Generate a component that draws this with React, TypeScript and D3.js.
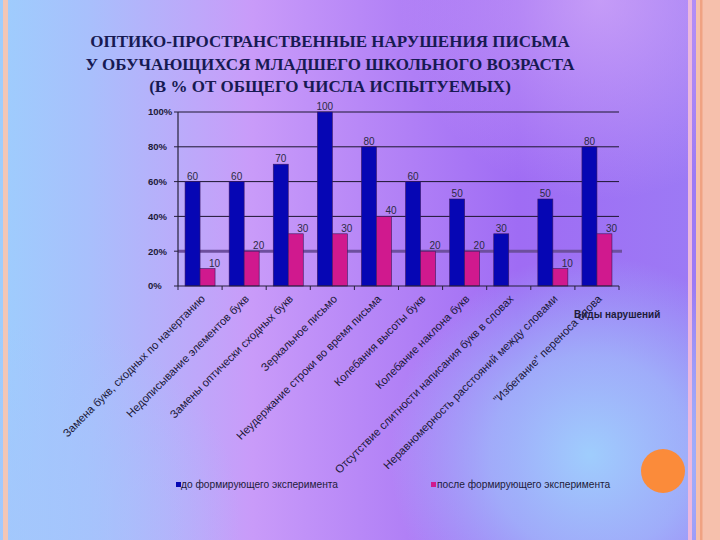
import React from "react";
import * as d3 from "d3";

// data
const categories = [
  "Замена букв, сходных по начертанию",
  "Недописывание элементов букв",
  "Замены оптически сходных букв",
  "Зеркальное письмо",
  "Неудержание строки во время письма",
  "Колебания высоты букв",
  "Колебание наклона букв",
  "Отсутствие слитности написания букв в словах",
  "Неравномерность расстояний между словами",
  "\"Избегание\" переноса слова",
];
const before = [60, 60, 70, 100, 80, 60, 50, 30, 50, 80];
const after = [10, 20, 30, 30, 40, 20, 20, null, 10, 30];
const seriesNames = ["до формирующего эксперимента", "после формирующего эксперимента"];
const yTicks = [0, 20, 40, 60, 80, 100];
const titleLines = [
  "ОПТИКО-ПРОСТРАНСТВЕННЫЕ НАРУШЕНИЯ ПИСЬМА",
  "У ОБУЧАЮЩИХСЯ МЛАДШЕГО ШКОЛЬНОГО ВОЗРАСТА",
  "(В % ОТ ОБЩЕГО ЧИСЛА ИСПЫТУЕМЫХ)",
];
const axisTitle = "Виды нарушений";

const W = 720;
const H = 540;
const PLOT = { left: 178, right: 619, top: 112, bottom: 286 };
const BLUE = "#0606b4";
const PINK = "#d0198e";
const SANS = "'Liberation Sans', Arial, sans-serif";

export default function App() {
  const x = d3.scaleBand<string>().domain(categories).range([PLOT.left, PLOT.right]);
  const inner = d3.scaleBand<string>()
    .domain(["before", "after"])
    .range([0, x.bandwidth()])
    .paddingOuter(0.47);
  const y = d3.scaleLinear().domain([0, 100]).range([PLOT.bottom, PLOT.top]);

  const series = [
    { key: "before", values: before, color: BLUE, dx: 0 },
    { key: "after", values: after, color: PINK, dx: 7 },
  ];

  return (
    <svg width={W} height={H} style={{ position: "absolute", left: 0, top: 0, display: "block" }}>
      <defs>
        <linearGradient id="bg" x1="0" y1="0" x2="1" y2="0">
          <stop offset="0" stopColor="#9ecdfd" />
          <stop offset="0.12" stopColor="#a8c0fc" />
          <stop offset="0.35" stopColor="#c99bf9" />
          <stop offset="0.72" stopColor="#9f6cf4" />
          <stop offset="1" stopColor="#9c7cf5" />
        </linearGradient>
        <radialGradient id="glowBR" cx="590" cy="455" r="200" gradientUnits="userSpaceOnUse">
          <stop offset="0" stopColor="#9fcdfd" stopOpacity="1" />
          <stop offset="0.5" stopColor="#a0c4fc" stopOpacity="0.7" />
          <stop offset="1" stopColor="#a0c4fc" stopOpacity="0" />
        </radialGradient>
        <radialGradient id="glowTR" cx="600" cy="0" r="200" gradientUnits="userSpaceOnUse">
          <stop offset="0" stopColor="#cfa6f8" stopOpacity="0.8" />
          <stop offset="1" stopColor="#cfa6f8" stopOpacity="0" />
        </radialGradient>
        <radialGradient id="glowBL" cx="40" cy="520" r="200" gradientUnits="userSpaceOnUse">
          <stop offset="0" stopColor="#a4c6fc" stopOpacity="0.8" />
          <stop offset="1" stopColor="#a4c6fc" stopOpacity="0" />
        </radialGradient>
      </defs>

      {/* background */}
      <rect width={W} height={H} fill="url(#bg)" />
      <rect width={W} height={H} fill="url(#glowTR)" />
      <rect width={W} height={H} fill="url(#glowBL)" />
      <rect width={W} height={H} fill="url(#glowBR)" />

      {/* side stripes */}
      <rect x={3} y={0} width={5} height={H} fill="#f2c6b6" />
      <rect x={688} y={0} width={4} height={H} fill="#ecb8de" />
      <rect x={696} y={0} width={24} height={H} fill="#f6c0ac" />
      <rect x={700} y={0} width={2.5} height={H} fill="#f0a282" />
      <circle cx={663} cy={471} r={22} fill="#fb8b3a" />

      {/* title */}
      <g fontFamily="'Liberation Serif', 'Times New Roman', serif" fontWeight="bold" fontSize={17} fill="#171a52" textAnchor="middle">
        {titleLines.map((t, i) => (
          <text key={i} x={330} y={47 + i * 22.5}>{t}</text>
        ))}
      </g>

      {/* grid */}
      {yTicks.filter(t => t > 0).map(t => (
        <line key={t}
          x1={PLOT.left} x2={t === 20 ? PLOT.right + 3 : PLOT.right}
          y1={y(t)} y2={y(t)}
          stroke={t === 20 ? "#6d4f9e" : "#1c1630"}
          strokeWidth={t === 20 ? 3 : 1} />
      ))}

      {/* bars */}
      {series.map(s => (
        <g key={s.key}>
          {categories.map((c, i) => {
            const v = s.values[i];
            if (v == null) return null;
            const bx = (x(c) ?? 0) + (inner(s.key) ?? 0);
            return (
              <g key={c}>
                <rect x={bx} y={y(v)} width={inner.bandwidth()} height={y(0) - y(v)}
                  fill={s.color} stroke="#3a1860" strokeWidth={0.6} />
                <text x={bx + inner.bandwidth() / 2 + s.dx} y={y(v) - 2} textAnchor="middle"
                  fontFamily={SANS} fontSize={10} fill="#2b2a44">{v}</text>
              </g>
            );
          })}
        </g>
      ))}

      {/* y axis */}
      <line x1={PLOT.left} x2={PLOT.left} y1={PLOT.top} y2={PLOT.bottom} stroke="#25203a" strokeWidth={1.2} />
      {yTicks.map(t => (
        <g key={t}>
          <line x1={PLOT.left - 4} x2={PLOT.left} y1={y(t)} y2={y(t)} stroke="#25203a" />
          <text x={148} y={y(t)} dy="0.35em" fontFamily={SANS} fontSize={9.5} fontWeight="bold" fill="#1d1b3a">{t + "%"}</text>
        </g>
      ))}

      {/* x axis */}
      <line x1={PLOT.left} x2={PLOT.right} y1={PLOT.bottom} y2={PLOT.bottom} stroke="#25203a" strokeWidth={1.2} />
      {categories.concat([""]).map((c, i) => {
        const tx = PLOT.left + i * x.step();
        return <line key={i} x1={tx} x2={tx} y1={PLOT.bottom} y2={PLOT.bottom + 4} stroke="#25203a" />;
      })}
      {categories.map(c => {
        const cx = (x(c) ?? 0) + x.bandwidth() / 2;
        return (
          <text key={c} transform={`translate(${cx},${PLOT.bottom + 8}) rotate(-45)`}
            textAnchor="end" dy="0.7em" fontFamily={SANS} fontSize={11.2} fill="#1a1838">{c}</text>
        );
      })}
      <text x={574} y={318} fontFamily={SANS} fontSize={10} fontWeight="bold" fill="#1d1b3a">{axisTitle}</text>

      {/* legend */}
      <g fontFamily={SANS} fontSize={10.2} fill="#1d1b3a">
        <rect x={176} y={482} width={5} height={5} fill={BLUE} />
        <text x={181} y={487.5}>{seriesNames[0]}</text>
        <rect x={431} y={482} width={5} height={5} fill={PINK} />
        <text x={437} y={487.5}>{seriesNames[1]}</text>
      </g>
    </svg>
  );
}
